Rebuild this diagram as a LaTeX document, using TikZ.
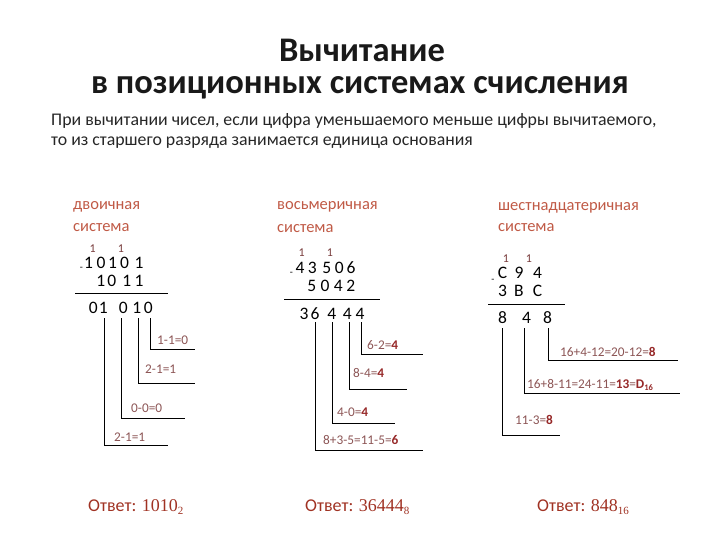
\documentclass[tikz,border=0pt]{standalone}
\usepackage{fontspec}
\setmainfont{Carlito}
\newfontfamily\serifnum{Liberation Serif}
\definecolor{sysc}{RGB}{192,90,70}
\definecolor{lblc}{RGB}{140,85,85}
\definecolor{resc}{RGB}{150,40,40}
\definecolor{carryc}{RGB}{120,60,60}
\definecolor{ansc}{RGB}{160,50,35}
\newcommand{\mysub}[1]{\raisebox{-3.5pt}{\fontsize{11}{12}\selectfont #1}}
\newcommand{\lblsub}[1]{\raisebox{-2.5pt}{\fontsize{8.5}{9}\selectfont #1}}
\begin{document}
\begin{tikzpicture}[x=1pt,y=-1pt,
  title/.style={font=\fontsize{34.5}{40}\selectfont\bfseries, text=black!90},
  body/.style={font=\fontsize{17.8}{21}\selectfont, anchor=west, inner sep=0pt, text=black!85},
  syslabel/.style={font=\fontsize{16.5}{19}\selectfont, anchor=west, inner sep=0pt, text=sysc},
  dig/.style={font=\fontsize{17.5}{20}\selectfont, inner sep=0pt, text height=11pt, text depth=0pt},
  carry/.style={font=\fontsize{12}{13}\selectfont, inner sep=0pt, text=carryc},
  minus/.style={font=\fontsize{10}{10}\selectfont, inner sep=0pt},
  lbl/.style={font=\fontsize{13.3}{15}\selectfont, anchor=west, inner sep=0pt, text=lblc},
  ans/.style={font=\fontsize{18}{21}\selectfont, anchor=west, inner sep=0pt, text=ansc},
  ln/.style={line width=1pt, black}]
\useasboundingbox (0,0) rectangle (720,540);
% title
\node[title] (t1) at (362,50) {Вычитание};
\node[title] (t2) at (360,88) {в позиционных системах счисления};
\node[body] (b1) at (51,121) {При вычитании чисел, если цифра уменьшаемого меньше цифры вычитаемого,};
\node[body] (b2) at (51,143) {то из старшего разряда занимается единица основания};

% ---------- binary ----------
\node[syslabel] (s1a) at (73,207) {двоичная};
\node[syslabel] (s1b) at (73,228) {система};
\node[carry] (c1a) at (92.7,248.5) {1};
\node[carry] (c1b) at (121,248.5) {1};
\node[minus] (m1) at (81.5,268.5) {-};
\foreach \x/\d [count=\i] in {88.5/1,101/0,112.5/1,124.5/0,139/1}
  {\node[dig] (p\i) at (\x,263) {\d};}
\foreach \x/\d [count=\i] in {100.7/1,111.7/0,126.7/1,139/1}
  {\node[dig] (q\i) at (\x,281) {\d};}
\coordinate (r1a) at (75,293);
\coordinate (r1b) at (168,293);
\draw[ln] (r1a) -- (r1b);
\foreach \x/\d [count=\i] in {93.3/0,103.3/1,123.3/0,136.7/1,148.3/0}
  {\node[dig] (a\i) at (\x,308) {\d};}
\coordinate (v1a) at (150,318);  \coordinate (h1a) at (195,349);
\coordinate (v1b) at (138,318);  \coordinate (h1b) at (195,383);
\coordinate (v1c) at (121.7,318);\coordinate (h1c) at (185,418);
\coordinate (v1d) at (104,318);  \coordinate (h1d) at (168,445);
\draw[ln] (v1a) |- (h1a);
\draw[ln] (v1b) |- (h1b);
\draw[ln] (v1c) |- (h1c);
\draw[ln] (v1d) |- (h1d);
\node[lbl] (l1a) at (157,340) {1-1=0};
\node[lbl] (l1b) at (145,369) {2-1=1};
\node[lbl] (l1c) at (131,408) {0-0=0};
\node[lbl] (l1d) at (114,437) {2-1=1};

% ---------- octal ----------
\node[syslabel] (s2a) at (277,207) {восьмеричная};
\node[syslabel] (s2b) at (277,229) {система};
\node[carry] (c2a) at (301.7,252.5) {1};
\node[carry] (c2b) at (330,252.5) {1};
\node[minus] (m2) at (291.5,273.5) {-};
\foreach \x/\d [count=\i] in {300/4,312.3/3,326.7/5,339.3/0,351/6}
  {\node[dig] (e\i) at (\x,268) {\d};}
\foreach \x/\d [count=\i] in {311.7/5,325/0,338.3/4,350.7/2}
  {\node[dig] (f\i) at (\x,286) {\d};}
\coordinate (r2a) at (284,299.5);
\coordinate (r2b) at (380,299.5);
\draw[ln] (r2a) -- (r2b);
\foreach \x/\d [count=\i] in {304/3,315/6,331.7/4,347.3/4,360/4}
  {\node[dig] (g\i) at (\x,313.5) {\d};}
\coordinate (v2a) at (361,322); \coordinate (h2a) at (423,354);
\coordinate (v2b) at (349,322); \coordinate (h2b) at (407,389);
\coordinate (v2c) at (332,322); \coordinate (h2c) at (395,423);
\coordinate (v2d) at (315,322); \coordinate (h2d) at (423,450);
\draw[ln] (v2a) |- (h2a);
\draw[ln] (v2b) |- (h2b);
\draw[ln] (v2c) |- (h2c);
\draw[ln] (v2d) |- (h2d);
\node[lbl] (l2a) at (367,345) {6-2=\textcolor{resc}{\textbf{4}}};
\node[lbl] (l2b) at (353,373) {8-4=\textcolor{resc}{\textbf{4}}};
\node[lbl] (l2c) at (337,412) {4-0=\textcolor{resc}{\textbf{4}}};
\node[lbl] (l2d) at (323,440) {8+3-5=11-5=\textcolor{resc}{\textbf{6}}};

% ---------- hexadecimal ----------
\node[syslabel] (s3a) at (498,208) {шестнадцатеричная};
\node[syslabel] (s3b) at (498,228) {система};
\node[carry] (c3a) at (506,258.5) {1};
\node[carry] (c3b) at (529,258.5) {1};
\node[minus] (m3) at (493,281) {-};
\foreach \x/\d [count=\i] in {502.5/C,519/9,537.5/4}
  {\node[dig] (h\i) at (\x,272.5) {\d};}
\foreach \x/\d [count=\i] in {502.5/3,519/B,537.5/C}
  {\node[dig] (k\i) at (\x,290.5) {\d};}
\coordinate (r3a) at (488,304);
\coordinate (r3b) at (565,304);
\draw[ln] (r3a) -- (r3b);
\foreach \x/\d [count=\i] in {502.5/8,526.5/4,547.5/8}
  {\node[dig] (n\i) at (\x,318) {\d};}
\coordinate (v3a) at (548,328); \coordinate (h3a) at (678,360);
\coordinate (v3b) at (524,328); \coordinate (h3b) at (680,393);
\coordinate (v3c) at (502,328); \coordinate (h3c) at (560,435);
\draw[ln] (v3a) |- (h3a);
\draw[ln] (v3b) |- (h3b);
\draw[ln] (v3c) |- (h3c);
\node[lbl] (l3a) at (560,352) {16+4-12=20-12=\textcolor{resc}{\textbf{8}}};
\node[lbl] (l3b) at (527,385) {16+8-11=24-11=\textcolor{resc}{\textbf{13}}=\textcolor{resc}{\textbf{D}\lblsub{\textbf{16}}}};
\node[lbl] (l3c) at (515,420) {11-3=\textcolor{resc}{\textbf{8}}};

% ---------- answers ----------
\node[ans] (ans1) at (88,507) {Ответ: {\serifnum 1010\mysub{2}}};
\node[ans] (ans2) at (305,507) {Ответ: {\serifnum 36444\mysub{8}}};
\node[ans] (ans3) at (537,507) {Ответ: {\serifnum 848\mysub{16}}};
\end{tikzpicture}
\end{document}
